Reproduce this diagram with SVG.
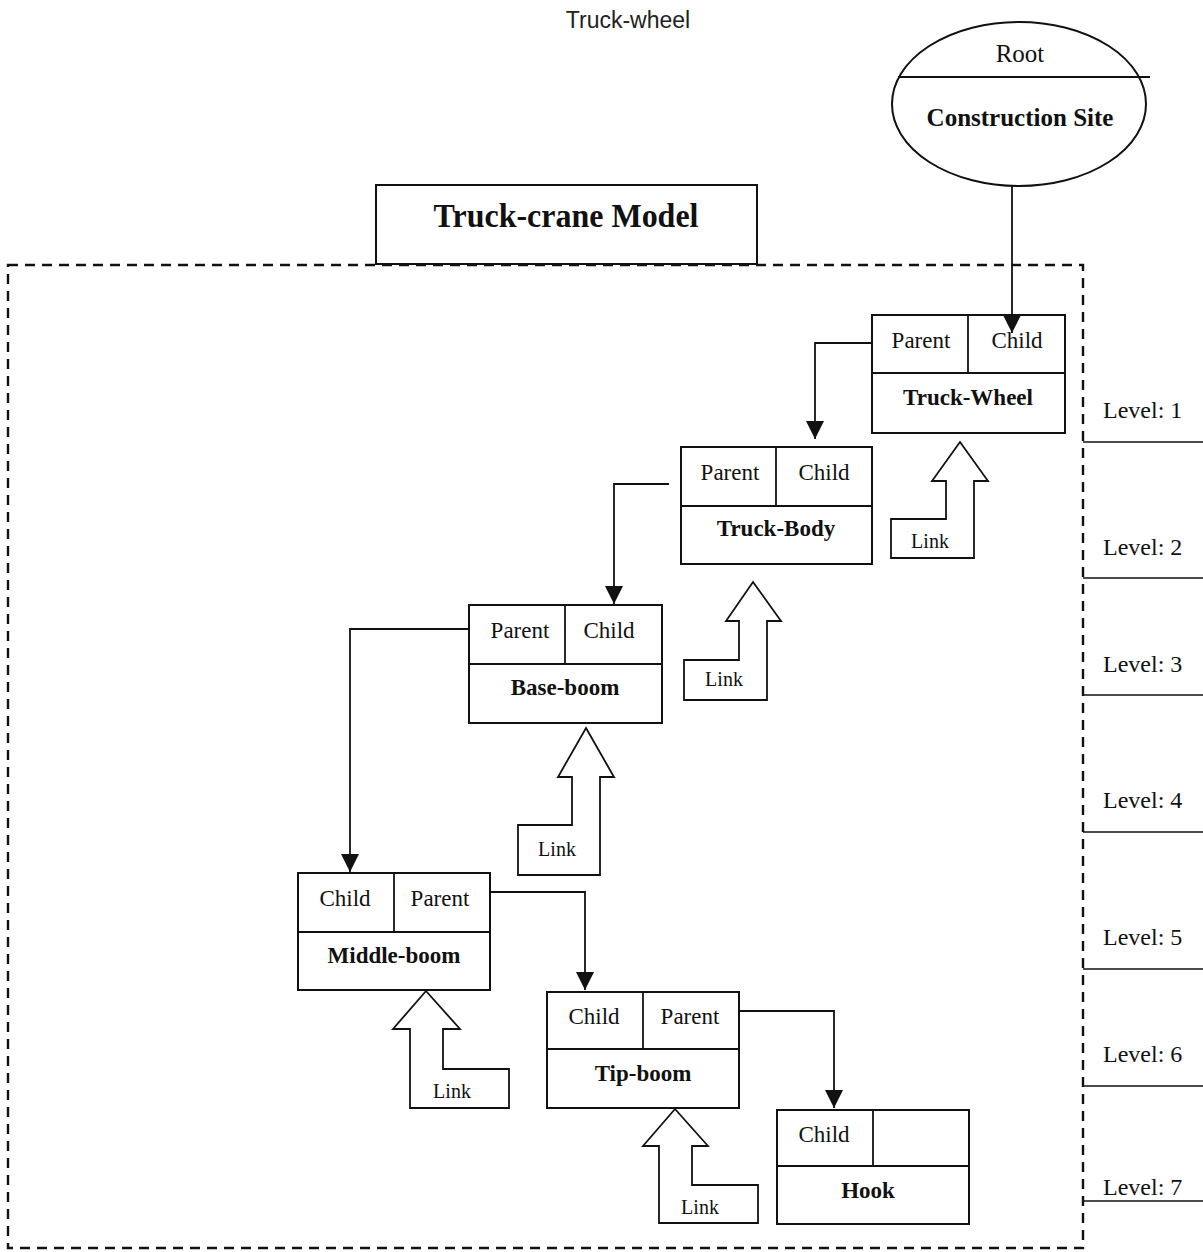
<svg xmlns="http://www.w3.org/2000/svg" width="1203" height="1252" viewBox="0 0 1203 1252">
  <defs>
    <marker id="arrow" markerUnits="userSpaceOnUse" markerWidth="18" markerHeight="18" viewBox="0 0 18 18" refX="18" refY="9" orient="auto">
      <path d="M0,0 L18,9 L0,18 z" fill="#111"/>
    </marker>
    <style>
      .box { fill: #fff; stroke: #111; stroke-width: 2; }
      .div { stroke: #111; stroke-width: 1.8; fill: none; }
      .conn { stroke: #111; stroke-width: 1.8; fill: none; }
      .link { fill: #fff; stroke: #111; stroke-width: 1.8; stroke-linejoin: miter; }
      .frame { fill: none; stroke: #111; stroke-width: 2.4; stroke-dasharray: 10 7; }
      .lvl { stroke: #111; stroke-width: 1.6; }
      .t { font-family: "Liberation Serif", "Times New Roman", serif; fill: #111; text-anchor: middle; }
      .lab { font-size: 23px; }
      .name { font-size: 23px; font-weight: bold; }
      .lk { font-size: 20px; }
      .lv { font-family: "Liberation Serif", "Times New Roman", serif; fill: #111; font-size: 24px; }
    </style>
  </defs>

  <rect width="1203" height="1252" fill="#fff"/>

  <!-- caption -->
  <text x="628" y="28" font-family="Liberation Sans, Arial, sans-serif" font-size="23" fill="#222" text-anchor="middle">Truck-wheel</text>

  <!-- model frame -->
  <rect class="frame" x="8" y="265" width="1075" height="983"/>

  <!-- title box -->
  <g id="title">
    <rect class="box" x="376" y="185" width="381" height="79"/>
    <text class="t" x="566" y="227" font-size="33" font-weight="bold" textLength="265" lengthAdjust="spacingAndGlyphs">Truck-crane Model</text>
  </g>

  <!-- level scale -->
  <g id="levels">
    <line class="lvl" x1="1083" y1="442" x2="1203" y2="442"/>
    <line class="lvl" x1="1083" y1="578" x2="1203" y2="578"/>
    <line class="lvl" x1="1083" y1="695" x2="1203" y2="695"/>
    <line class="lvl" x1="1083" y1="832" x2="1203" y2="832"/>
    <line class="lvl" x1="1083" y1="969" x2="1203" y2="969"/>
    <line class="lvl" x1="1083" y1="1086" x2="1203" y2="1086"/>
    <line class="lvl" x1="1083" y1="1201" x2="1203" y2="1201"/>
    <text class="lv" x="1103" y="418">Level: 1</text>
    <text class="lv" x="1103" y="555">Level: 2</text>
    <text class="lv" x="1103" y="672">Level: 3</text>
    <text class="lv" x="1103" y="808">Level: 4</text>
    <text class="lv" x="1103" y="945">Level: 5</text>
    <text class="lv" x="1103" y="1062">Level: 6</text>
    <text class="lv" x="1103" y="1195">Level: 7</text>
  </g>

  <!-- root node -->
  <g id="root">
    <ellipse class="box" cx="1019" cy="104" rx="127" ry="82"/>
    <line class="div" x1="898" y1="77" x2="1150" y2="77"/>
    <text class="t" x="1020" y="62" font-size="25">Root</text>
    <text class="t" x="1020" y="126" font-size="25" font-weight="bold">Construction Site</text>
  </g>

  <!-- nodes -->
  <g id="truck-wheel">
    <rect class="box" x="872" y="315" width="193" height="118"/>
    <line class="div" x1="872" y1="373" x2="1065" y2="373"/>
    <line class="div" x1="968" y1="315" x2="968" y2="373"/>
    <text class="t lab" x="921" y="348">Parent</text>
    <text class="t lab" x="1017" y="348">Child</text>
    <text class="t name" x="968" y="405">Truck-Wheel</text>
  </g>

  <g id="truck-body">
    <rect class="box" x="681" y="447" width="191" height="117"/>
    <line class="div" x1="681" y1="506" x2="872" y2="506"/>
    <line class="div" x1="776" y1="447" x2="776" y2="506"/>
    <text class="t lab" x="730" y="480">Parent</text>
    <text class="t lab" x="824" y="480">Child</text>
    <text class="t name" x="776" y="536">Truck-Body</text>
  </g>

  <g id="base-boom">
    <rect class="box" x="469" y="605" width="193" height="118"/>
    <line class="div" x1="469" y1="664" x2="662" y2="664"/>
    <line class="div" x1="565" y1="605" x2="565" y2="664"/>
    <text class="t lab" x="520" y="638">Parent</text>
    <text class="t lab" x="609" y="638">Child</text>
    <text class="t name" x="565" y="695">Base-boom</text>
  </g>

  <g id="middle-boom">
    <rect class="box" x="298" y="873" width="192" height="117"/>
    <line class="div" x1="298" y1="932" x2="490" y2="932"/>
    <line class="div" x1="394" y1="873" x2="394" y2="932"/>
    <text class="t lab" x="345" y="906">Child</text>
    <text class="t lab" x="440" y="906">Parent</text>
    <text class="t name" x="394" y="963">Middle-boom</text>
  </g>

  <g id="tip-boom">
    <rect class="box" x="547" y="992" width="192" height="116"/>
    <line class="div" x1="547" y1="1049" x2="739" y2="1049"/>
    <line class="div" x1="643" y1="992" x2="643" y2="1049"/>
    <text class="t lab" x="594" y="1024">Child</text>
    <text class="t lab" x="690" y="1024">Parent</text>
    <text class="t name" x="643" y="1081">Tip-boom</text>
  </g>

  <g id="hook">
    <rect class="box" x="777" y="1110" width="192" height="114"/>
    <line class="div" x1="777" y1="1166" x2="969" y2="1166"/>
    <line class="div" x1="873" y1="1110" x2="873" y2="1166"/>
    <text class="t lab" x="824" y="1142">Child</text>
    <text class="t name" x="868" y="1198">Hook</text>
  </g>

  <!-- link block arrows -->
  <g id="links">
    <g id="link-truck-wheel">
      <polygon class="link" points="960,442 988,481 974,481 974,558 891,558 891,519 946,519 946,481 932,481"/>
      <text class="t lk" x="930" y="548">Link</text>
    </g>
    <g id="link-truck-body">
      <polygon class="link" points="753,582 781,621 767,621 767,700 684,700 684,660 739,660 739,621 726,621"/>
      <text class="t lk" x="724" y="686">Link</text>
    </g>
    <g id="link-base-boom">
      <polygon class="link" points="586,728 614,777 600,777 600,875 518,875 518,825 572,825 572,777 558,777"/>
      <text class="t lk" x="557" y="856">Link</text>
    </g>
    <g id="link-middle-boom">
      <polygon class="link" points="426,991 460,1029 443,1029 443,1069 509,1069 509,1108 410,1108 410,1029 393,1029"/>
      <text class="t lk" x="452" y="1098">Link</text>
    </g>
    <g id="link-tip-boom">
      <polygon class="link" points="675,1109 708,1146 692,1146 692,1185 758,1185 758,1223 659,1223 659,1146 643,1146"/>
      <text class="t lk" x="700" y="1214">Link</text>
    </g>
  </g>

  <!-- connectors -->
  <g id="connectors">
    <path class="conn" d="M1012,186 V333" marker-end="url(#arrow)"/>
    <path class="conn" d="M872,343 H815 V439" marker-end="url(#arrow)"/>
    <path class="conn" d="M669,484 H614 V604" marker-end="url(#arrow)"/>
    <path class="conn" d="M469,629 H350 V872" marker-end="url(#arrow)"/>
    <path class="conn" d="M490,892 H585 V990" marker-end="url(#arrow)"/>
    <path class="conn" d="M739,1011 H834 V1108" marker-end="url(#arrow)"/>
  </g>
</svg>
